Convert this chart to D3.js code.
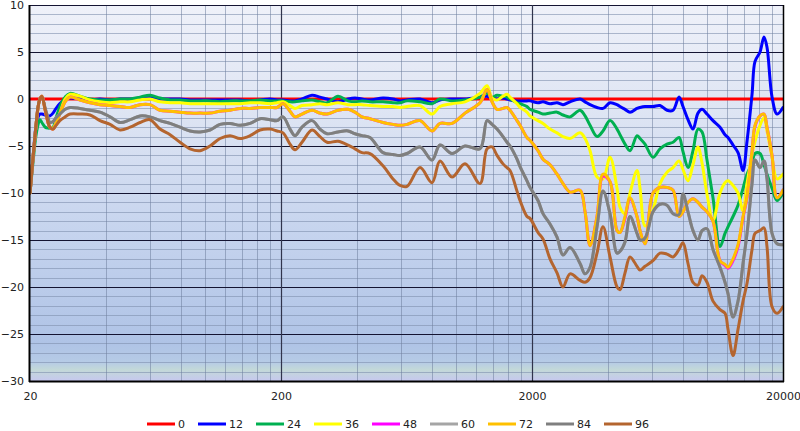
<!DOCTYPE html>
<html><head><meta charset="utf-8">
<script src="https://cdn.jsdelivr.net/npm/d3@7"></script>
<style>
html,body{margin:0;padding:0;background:#fff;}
svg{display:block;font-family:"DejaVu Sans",sans-serif;}
</style></head>
<body>
<svg id="chart" width="800" height="431"></svg>
<script>
// ---------- DATA ----------
const freqs = [20,20.6,21.1,21.5,21.9,22.3,23.0,23.6,24.0,24.7,25.4,26.3,27.6,28.9,31.6,34.7,38.0,41.7,45.7,50.1,
54.9,60.1,65.9,72.3,79.2,86.8,95.2,104.3,114.3,125.3,137.4,150.6,165,180.9,192.8,203.7,217.2,227.4,242.5,265.8,
286,305.1,337.4,369.8,394.3,420.4,452.4,509.8,558.8,596.1,635.5,716.1,799.3,860,960.2,1082,1241,1324,1386,1451,
1533,1590,1635,1743,1792,1910,1963,2113,2212,2359,2516,2658,2835,3108,3254,3406,3631,3836,4091,4363,
4484,4695,4915,5240,5387,5640,6068,6471,6901,7293,7705,7991,8367,8759,9169,9514,9959,10522,11220,11748,
12077,12645,13239,13861,14378,15054,15473,16197,16803,17270,18086,18931,20000];

const freqsFlat = [20, 20000];
const series0 = [0, 0];

const series12 = [-10,-6,-3,-2,-1.6,-1.6,-1.7,-1.8,-1.8,-1.5,-1.0,-0.5,-0.1,0.1,0.0,-0.1,0.0,-0.1,0.0,0.0,
0.1,0.2,0.0,0.0,0.0,-0.1,-0.1,-0.1,-0.1,-0.1,-0.1,-0.2,-0.1,0.0,-0.1,-0.1,-0.2,-0.2,0.0,0.4,
0.2,0.0,-0.3,0.0,0.1,0.0,-0.1,0.1,0.0,-0.2,-0.1,0.0,-0.4,-0.1,0.0,0.0,0.2,0.3,0.1,0.0,
0.1,0.0,-0.1,-0.2,-0.2,-0.2,-0.2,-0.4,-0.3,-0.5,-0.4,-0.6,-0.3,0.0,-0.3,-0.6,-0.9,-1.0,-0.4,-0.6,
-0.8,-1.1,-1.4,-1.0,-0.9,-0.8,-0.8,-0.7,-1.2,-1.2,0.2,-0.8,-2.2,-3.2,-1.5,-1.1,-1.6,-2.3,-3.0,-3.8,
-4.1,-4.9,-5.7,-7.6,-4.5,0.5,4.0,5.0,6.6,5.5,0.2,-1.6,-0.9];

const series24 = [-10,-6.5,-4,-2.8,-2.2,-2.5,-3.0,-3.1,-3.1,-3.0,-2.0,-0.8,0.2,0.6,0.3,0.0,-0.1,-0.1,0.0,0.0,
0.2,0.4,0.1,-0.1,-0.1,-0.2,-0.2,-0.2,-0.3,-0.2,-0.2,-0.2,-0.1,-0.2,-0.2,-0.2,-0.3,-0.3,-0.2,-0.1,
-0.3,-0.4,0.3,-0.2,-0.3,-0.2,-0.3,-0.3,-0.4,-0.4,-0.2,-0.3,-0.5,0.0,-0.2,-0.1,0.2,0.6,0.2,0.4,
0.3,0.2,0.0,-0.4,-0.5,-0.8,-1.1,-1.4,-1.6,-1.5,-1.4,-1.7,-1.9,-1.2,-1.8,-2.8,-4.0,-3.4,-2.3,-3.2,
-3.8,-4.8,-5.5,-3.9,-4.2,-4.8,-6.2,-5.3,-4.8,-4.6,-4.1,-5.6,-7.3,-5.5,-3.2,-3.5,-6.5,-10.5,-15.7,-14.3,
-13.6,-12.5,-11.3,-9.5,-8.0,-6.8,-5.8,-5.8,-7.0,-8.0,-9.5,-10.8,-10.0];

const series36 = [-10,-6,-3,-1,0.0,0.3,-1.2,-2.5,-3.0,-3.1,-2.5,-1.5,0.0,0.5,0.3,-0.1,-0.3,-0.4,-0.3,-0.3,
-0.1,0.0,-0.3,-0.4,-0.4,-0.5,-0.5,-0.5,-0.5,-0.5,-0.5,-0.4,-0.4,-0.5,-0.4,-0.3,-0.7,-1.0,-0.7,-0.6,
-0.5,-0.6,-0.4,-0.6,-0.6,-0.6,-0.7,-0.8,-0.8,-0.9,-0.8,-0.7,-1.6,-0.8,-0.5,-0.3,0.6,1.4,0.1,-0.1,
0.3,0.5,0.2,-0.5,-0.9,-1.4,-1.8,-2.3,-2.6,-3.2,-3.6,-4.0,-4.2,-3.6,-4.2,-5.5,-8.3,-8.5,-6.2,-9.5,
-11.5,-12.2,-10.0,-7.6,-9.5,-13.5,-11.8,-9.0,-7.8,-7.3,-6.6,-7.5,-8.7,-7.0,-5.1,-6.8,-10.1,-12.9,-10.0,-8.9,
-8.7,-9.2,-10.0,-11.9,-9.0,-5.9,-4.5,-2.8,-2.0,-3.4,-6.2,-8.5,-8.0];

const series48 = [-10,-6,-3,-1,0.0,0.3,-1.2,-2.5,-3.0,-3.2,-2.6,-1.6,-0.3,0.2,-0.1,-0.4,-0.6,-0.7,-0.8,-0.9,
-0.6,-0.6,-1.2,-1.3,-1.4,-1.5,-1.5,-1.5,-1.3,-1.2,-1.0,-1.0,-0.9,-0.9,-0.9,-0.5,-1.3,-1.9,-1.6,-1.2,
-1.5,-1.6,-1.2,-1.1,-1.4,-1.9,-2.1,-2.5,-2.7,-2.8,-2.7,-2.3,-3.4,-2.6,-2.6,-1.5,-0.4,1.0,-0.3,-1.1,
-1.0,-0.9,-1.2,-2.3,-2.8,-4.1,-4.4,-5.5,-6.4,-7.0,-8.0,-9.0,-9.9,-9.7,-12.0,-15.6,-12.5,-8.2,-8.8,-14.0,
-14.2,-12.7,-10.6,-12.5,-14.0,-15.4,-10.0,-9.4,-9.4,-9.7,-12.5,-12.0,-11.0,-10.6,-11.0,-11.5,-12.0,-13.0,-17.2,-17.7,
-18.0,-17.2,-15.7,-12.6,-10.5,-5.6,-2.9,-1.8,-1.6,-3.0,-6.0,-10.5,-9.7];

const series60 = [-10,-6,-3,-1,0.0,0.2,-1.0,-2.0,-2.5,-2.4,-2.0,-1.6,-1.1,-0.9,-1.0,-1.2,-1.4,-1.9,-2.5,-2.2,
-1.8,-1.9,-2.3,-2.6,-3.0,-3.4,-3.5,-3.3,-2.7,-2.6,-2.8,-2.6,-2.1,-2.2,-2.3,-1.9,-3.2,-3.9,-3.0,-2.3,
-3.2,-3.7,-3.5,-3.4,-3.7,-3.9,-4.1,-5.7,-5.9,-6.0,-5.8,-5.1,-6.5,-4.9,-5.8,-5.0,-5.3,-2.3,-2.7,-3.2,
-4.0,-4.6,-5.0,-6.4,-7.2,-8.7,-9.4,-10.8,-12.2,-13.3,-14.7,-16.6,-15.8,-17.5,-18.6,-17.9,-13.6,-9.8,-12.2,-16.4,
-16.2,-15.2,-12.5,-14.3,-15.0,-14.8,-12.0,-11.2,-11.3,-12.2,-12.3,-10.1,-12.0,-14.0,-15.0,-14.0,-13.8,-16.0,-17.9,-19.5,
-20.7,-23.2,-21.5,-17.5,-14.3,-9.0,-6.5,-7.3,-6.6,-8.5,-14.3,-15.4,-15.5];

const series72 = [-10,-6,-3,-1,0.0,0.3,-1.2,-2.5,-3.0,-3.2,-2.6,-1.6,-0.3,0.2,-0.1,-0.4,-0.6,-0.7,-0.8,-0.9,
-0.6,-0.6,-1.2,-1.3,-1.4,-1.5,-1.5,-1.5,-1.3,-1.2,-1.0,-1.0,-0.9,-0.9,-0.9,-0.5,-1.3,-1.9,-1.6,-1.2,
-1.5,-1.6,-1.2,-1.1,-1.4,-1.9,-2.1,-2.5,-2.7,-2.8,-2.7,-2.3,-3.4,-2.6,-2.6,-1.5,-0.4,1.0,-0.3,-1.1,
-1.0,-0.9,-1.2,-2.3,-2.8,-4.1,-4.4,-5.5,-6.4,-7.0,-8.0,-9.0,-9.9,-9.7,-12.0,-15.6,-12.5,-8.0,-8.8,-14.0,
-14.2,-12.5,-10.5,-12.5,-14.0,-15.4,-10.0,-9.4,-9.4,-9.7,-12.5,-12.0,-11.0,-10.6,-11.0,-11.5,-12.0,-13.0,-17.2,-17.6,
-17.9,-17.0,-15.5,-12.5,-10.4,-5.5,-2.8,-1.8,-1.6,-3.0,-6.0,-10.5,-9.7];

const series84 = [-10,-6,-3,-1,0.0,0.2,-1.0,-2.0,-2.5,-2.4,-2.0,-1.6,-1.1,-0.9,-1.0,-1.2,-1.4,-1.9,-2.5,-2.2,
-1.8,-1.9,-2.3,-2.6,-3.0,-3.4,-3.5,-3.3,-2.7,-2.6,-2.8,-2.6,-2.1,-2.2,-2.3,-1.9,-3.2,-3.9,-3.0,-2.3,
-3.2,-3.7,-3.5,-3.4,-3.7,-3.9,-4.1,-5.7,-5.9,-6.0,-5.8,-5.1,-6.5,-4.9,-5.8,-5.0,-5.3,-2.3,-2.7,-3.2,
-4.0,-4.6,-5.0,-6.4,-7.2,-8.7,-9.4,-10.8,-12.2,-13.3,-14.7,-16.6,-15.8,-17.5,-18.6,-17.9,-13.6,-9.8,-12.2,-16.4,
-16.2,-15.2,-12.5,-14.3,-15.0,-14.8,-12.0,-11.2,-11.3,-12.2,-12.3,-10.1,-12.0,-14.0,-15.0,-14.0,-13.8,-16.0,-17.9,-19.5,
-20.7,-23.2,-21.5,-17.5,-14.3,-9.0,-6.5,-7.3,-6.6,-8.5,-14.3,-15.4,-15.5];

const series96 = [-10,-6,-3,-1,0.0,0.3,-1.2,-2.5,-3.0,-3.2,-2.8,-2.3,-1.9,-1.6,-1.6,-1.7,-2.3,-2.7,-3.3,-3.0,
-2.5,-2.2,-3.2,-3.8,-4.6,-5.3,-5.5,-5.0,-4.2,-3.9,-4.2,-3.9,-3.3,-3.2,-3.4,-3.6,-4.8,-5.4,-4.6,-3.3,
-4.0,-4.6,-4.5,-4.9,-5.3,-5.7,-5.8,-7.1,-8.5,-9.2,-9.3,-7.3,-8.9,-6.6,-8.3,-6.9,-9.0,-5.3,-5.1,-6.0,
-6.9,-7.3,-7.6,-9.8,-10.8,-12.5,-12.7,-14.2,-14.9,-17.0,-18.5,-20.0,-18.6,-19.3,-19.5,-19.0,-16.4,-13.6,-16.8,-20.0,
-20.3,-18.5,-16.8,-17.8,-18.2,-17.8,-17.2,-16.4,-16.5,-16.8,-16.0,-15.3,-17.5,-19.5,-19.8,-18.8,-19.5,-21.5,-22.4,-22.8,
-24.5,-27.3,-24.5,-21.5,-19.6,-16.0,-14.3,-14.0,-13.7,-15.7,-22.1,-22.8,-22.1];

const seriesNames = ["0","12","24","36","48","60","72","84","96"];
const seriesColors = ["#ff0000","#0000ff","#00b050","#ffff00","#ff00ff","#a5a5a5","#ffc000","#7f7f7f","#b4652f"];
const seriesValues = [series0,series12,series24,series36,series48,series60,series72,series84,series96];
const seriesFreqs = [freqsFlat,freqs,freqs,freqs,freqs,freqs,freqs,freqs,freqs];

const xTickLabels = [20, 200, 2000, 20000];
const yTickLabels = [10, 5, 0, -5, -10, -15, -20, -25, -30];
const xGridMinor = [40,60,80,100,120,140,160,180,400,600,800,1000,1200,1400,1600,1800,
                    4000,6000,8000,10000,12000,14000,16000,18000];
const xGridMajor = [200, 2000];

// ---------- CHART ----------
const svg = d3.select("#chart");
const L = 30, R = 783, T = 5, B = 381;
const x = d3.scaleLog().domain([20, 20000]).range([L, R]);
const y = d3.scaleLinear().domain([-30, 10]).range([B, T]);

const defs = svg.append("defs");
const grad = defs.append("linearGradient").attr("id","bg").attr("x1",0).attr("y1",0).attr("x2",0).attr("y2",1);
[["0%","#eff1f9"],["30%","#dde4f3"],["60%","#c6d4ee"],["90%","#afc3e6"],["95%","#b6cbe6"],["97%","#c3d9d8"],["100%","#c6c8ef"]]
  .forEach(s => grad.append("stop").attr("offset", s[0]).attr("stop-color", s[1]));
defs.append("clipPath").attr("id","clip").append("rect").attr("x",L).attr("y",T-2).attr("width",R-L).attr("height",B-T+2);

svg.append("rect").attr("x",L).attr("y",T).attr("width",R-L).attr("height",B-T).attr("fill","url(#bg)");

const grid = svg.append("g");
grid.selectAll(".hm").data(d3.range(-29, 10).filter(v => v % 5 !== 0)).join("line")
  .attr("x1",L).attr("x2",R).attr("y1",d=>Math.round(y(d))+0.5).attr("y2",d=>Math.round(y(d))+0.5)
  .attr("stroke","#7f8fae").attr("stroke-opacity",0.6).attr("stroke-width",1);
grid.selectAll(".vm").data(xGridMinor).join("line")
  .attr("y1",T).attr("y2",B).attr("x1",d=>Math.round(x(d))+0.5).attr("x2",d=>Math.round(x(d))+0.5)
  .attr("stroke","#6f7f9f").attr("stroke-opacity",0.55).attr("stroke-width",1);
grid.selectAll(".hM").data(yTickLabels.filter(v => v !== -30)).join("line")
  .attr("x1",L).attr("x2",R).attr("y1",d=>Math.round(y(d))+0.5).attr("y2",d=>Math.round(y(d))+0.5)
  .attr("stroke","#141432").attr("stroke-width",1.2);
grid.selectAll(".vM").data(xGridMajor).join("line")
  .attr("y1",T).attr("y2",B).attr("x1",d=>Math.round(x(d))+0.5).attr("x2",d=>Math.round(x(d))+0.5)
  .attr("stroke","#30344c").attr("stroke-width",1.2);

const lineGen = d3.line().curve(d3.curveCatmullRom.alpha(0.5));
const plot = svg.append("g").attr("clip-path","url(#clip)");
seriesNames.forEach((name, i) => {
  const pts = seriesFreqs[i].map((f, j) => [x(f), y(seriesValues[i][j])]);
  plot.append("path").attr("d", lineGen(pts)).attr("fill","none")
    .attr("stroke", seriesColors[i]).attr("stroke-width", 3)
    .attr("stroke-linejoin","round").attr("stroke-linecap","round");
});

svg.append("line").attr("x1",L-0.5).attr("x2",L-0.5).attr("y1",T).attr("y2",B+1).attr("stroke","#000").attr("stroke-width",2);
svg.append("line").attr("x1",L-1).attr("x2",R+1).attr("y1",B+0.5).attr("y2",B+0.5).attr("stroke","#000").attr("stroke-width",2);
svg.append("line").attr("x1",R+0.5).attr("x2",R+0.5).attr("y1",T).attr("y2",B+1).attr("stroke","#000").attr("stroke-width",1.5);

const yAxis = svg.append("g").attr("transform",`translate(${L},0)`)
  .call(d3.axisLeft(y).tickValues(yTickLabels).tickSize(0).tickPadding(6).tickFormat(d3.format("d")));
yAxis.select(".domain").remove();
yAxis.selectAll("text").attr("font-size","11px").attr("fill","#222").attr("font-family","DejaVu Sans, sans-serif");

const xAxis = svg.append("g").attr("transform",`translate(0,${B})`)
  .call(d3.axisBottom(x).tickValues(xTickLabels).tickSize(0).tickPadding(11).tickFormat(d3.format("d")));
xAxis.select(".domain").remove();
xAxis.selectAll("text").attr("font-size","11px").attr("fill","#222").attr("font-family","DejaVu Sans, sans-serif");

const leg = svg.append("g");
let cx = 0;
seriesNames.forEach((name, i) => {
  const g = leg.append("g");
  g.append("line").attr("x1",0).attr("x2",28).attr("y1",0).attr("y2",0)
    .attr("stroke",seriesColors[i]).attr("stroke-width",3);
  const t = g.append("text").attr("x",31).attr("y",0).attr("dy","0.35em")
    .attr("font-size","11px").attr("fill","#222").text(name);
  const w = 31 + t.node().getComputedTextLength();
  g.attr("transform",`translate(${cx},0)`);
  cx += w + 13;
});
const totalW = cx - 13;
leg.attr("transform",`translate(${Math.round(398 - totalW/2)},424)`);
</script>
</body></html>
